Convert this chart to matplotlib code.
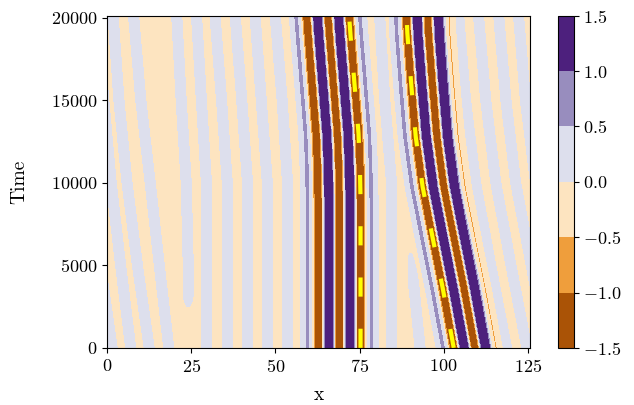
import numpy as np
import matplotlib
matplotlib.use("Agg")
import matplotlib.pyplot as plt

plt.rcParams.update({
    "font.family": "serif",
    "font.serif": ["cmr10"],
    "mathtext.fontset": "cm",
    "axes.formatter.use_mathtext": True,
    "font.size": 13,
})

L = 40 * np.pi
T_END = 20120

# tracked troughs of the two localised pulses (yellow dashed lines)
pulse1_t = [0, 5000, 9000, 11000, 13000, 16000, 19000, 20120]
pulse1_x = [75.3, 75.3, 75.3, 75.1, 74.7, 73.5, 72.3, 71.9]
pulse2_t = [0, 3640, 6700, 9760, 12800, 15880, 19090, 20120]
pulse2_x = [103.0, 99.7, 96.7, 93.75, 91.7, 90.4, 89.2, 89.0]

# extrema of each pulse: offset from the tracked trough (in units of pi) and height
pulse1_off = [-5, -4, -3, -2, -1, 0, 1]
pulse1_amp = [0.56, -2.6, 2.6, -2.6, 2.6, -2.6, 0.56]
pulse2_off = [-1, 0, 1, 2, 3, 4]
pulse2_amp = [0.56, -2.6, 2.6, -2.6, 2.6, -0.54]

# weak background stripes (crest positions read at these times)
stripe_t = [0, 5000, 10000, 15000, 20000]
stripes_left = [
    [1.5, -2.0, -5.0, -6.0, -6.0],
    [7.0, 4.0, 1.2, -1.0, -3.0],
    [12.5, 9.0, 5.9, 3.5, 1.8],
    [18.3, 15.5, 12.8, 10.0, 7.9],
]
finger = [24.1, 24.1, 23.5, 22.0, 20.7]
finger_on = [1800, 3200]
stripes_mid = [
    [29.5, 29.5, 29.5, 28.0, 26.6],
    [35.7, 35.7, 35.7, 34.0, 32.1],
    [41.7, 41.7, 41.7, 40.0, 38.1],
    [47.6, 47.6, 47.6, 45.8, 44.0],
    [53.6, 53.6, 53.6, 52.0, 50.0],
]
stripe_between = [84.6, 84.5, 84.5, 82.5, 81.0]
stripe_between_fading = [93.0, 90.5, 88.0, 87.0, 86.0]
fade_off = [4000, 7500]
stripes_right = [
    [118.7, 114.0, 109.5, 106.5, 104.5],
    [124.7, 120.0, 115.5, 112.5, 110.4],
    [130.7, 126.0, 121.4, 118.5, 116.4],
    [136.7, 132.0, 127.3, 124.3, 122.3],
]

levels = [-1.5, -1.0, -0.5, 0.0, 0.5, 1.0, 1.5]

x = np.linspace(0, L, 800)
t = np.linspace(0, T_END, 450)
X, Tm = np.meshgrid(x, t)


def bump(xs, amp=1.0):
    c = np.interp(t, stripe_t, xs)[:, None]
    return amp * np.exp(-((X - c) / 1.8) ** 2)


def pulse(track_t, track_x, offs, amps):
    c = np.interp(t, track_t, track_x)[:, None]
    field = np.zeros_like(X)
    for o, a in zip(offs, amps):
        field += a * np.exp(-((X - c - o * np.pi) / 1.3) ** 2)
    lo = c + (offs[0] - 0.8) * np.pi
    hi = c + (offs[-1] + 0.8) * np.pi
    mask = 0.5 * (np.tanh((X - lo) / 0.5) - np.tanh((X - hi) / 0.5))
    return field, mask


p1, k1 = pulse(pulse1_t, pulse1_x, pulse1_off, pulse1_amp)
p2, k2 = pulse(pulse2_t, pulse2_x, pulse2_off, pulse2_amp)
mask = np.clip(k1 + k2, 0, 1)

crest = np.zeros_like(X)
for xs in stripes_left + stripes_mid + [stripe_between] + stripes_right:
    crest = np.maximum(crest, bump(xs))
crest = np.maximum(crest, bump(finger, np.interp(t, finger_on, [0, 1])[:, None]))
crest = np.maximum(crest, bump(stripe_between_fading,
                               np.interp(t, fade_off, [1, 0])[:, None]))
bg = -0.3 + 0.6 * crest

u = p1 + p2 + (1 - mask) * bg
u = np.clip(u, -1.49, 1.49)

fig = plt.figure(figsize=(6.34, 4.05), dpi=100)
ax = fig.add_axes([0.169, 0.141, 0.667, 0.820])
cax = fig.add_axes([0.880, 0.141, 0.025, 0.820])

cs = ax.contourf(x, t, u, levels=levels, cmap="PuOr")
ax.plot(pulse1_x, pulse1_t, color="#ffff00", lw=3, ls=(0, (4.6, 7.7)))
ax.plot(pulse2_x, pulse2_t, color="#ffff00", lw=3, ls=(0, (4.6, 7.7)))

ax.set_xlim(0, L)
ax.set_ylim(0, T_END)
ax.set_xticks([0, 25, 50, 75, 100, 125])
ax.set_yticks([0, 5000, 10000, 15000, 20000])
ax.set_xlabel("x", fontsize=14, labelpad=8)
ax.set_ylabel("Time", fontsize=14, labelpad=16)

cb = fig.colorbar(cs, cax=cax, ticks=levels)

fig.savefig("out.png", dpi=100)
